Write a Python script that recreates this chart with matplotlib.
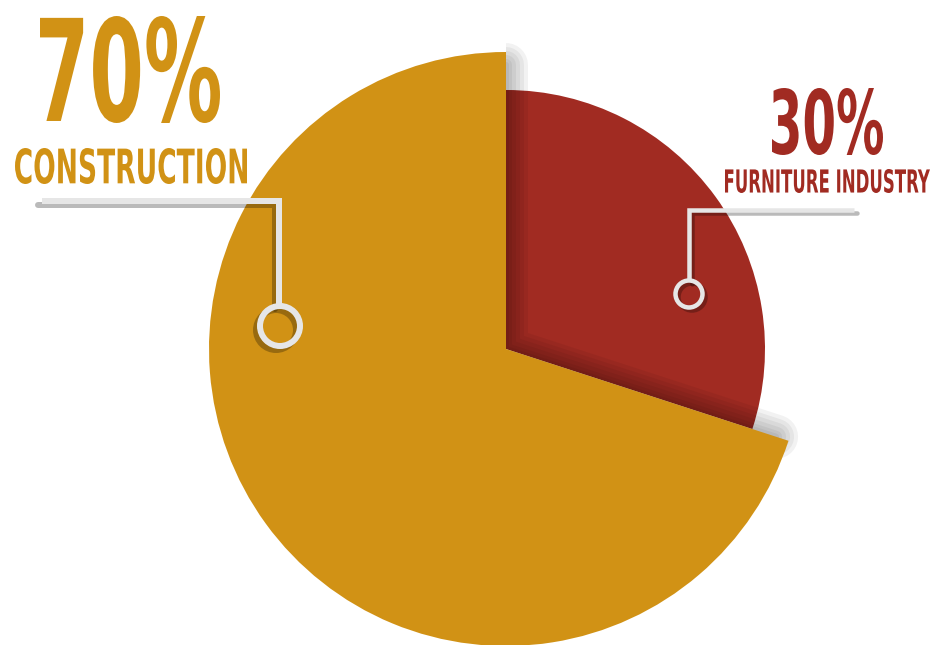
import numpy as np
import matplotlib
matplotlib.use('Agg')
import matplotlib.pyplot as plt
from matplotlib.textpath import TextPath
from matplotlib.patches import PathPatch, Circle, Wedge
from matplotlib.font_manager import FontProperties
from matplotlib.transforms import Affine2D

# data
labels = ['FURNITURE INDUSTRY', 'CONSTRUCTION']
shares = [30, 70]
pct_labels = ['30%', '70%']
colors = ['#A12B22', '#D19215']

W, H = 932, 645
PX = 72 / 100  # points per pixel at dpi 100
LINE = '#E6E6E6'


def Y(y):
    # convert top-down pixel row to axes y
    return H - y


fig = plt.figure(figsize=(W / 100, H / 100), dpi=100)
ax = fig.add_axes([0, 0, 1, 1])

center = (506, Y(349))
radii = [259, 297]

wedges_all = []
for i, (r, z) in enumerate([(radii[0], 1), (radii[1], 4)]):
    wedges, _ = ax.pie(shares, colors=colors, radius=r, center=center,
                       startangle=90, counterclock=False,
                       wedgeprops=dict(linewidth=0, zorder=z))
    for j, w in enumerate(wedges):
        w.set_zorder(z)
        if j != i:
            w.set_visible(False)
    wedges_all.append(wedges[i])

# soft shadow the big slice casts onto the small one
gold = wedges_all[1]
cx, cy = center
tips = []
for t in (gold.theta1, gold.theta2):
    a = np.deg2rad(t)
    rr = gold.r - 13
    tips.append((cx + rr * np.cos(a), cy + rr * np.sin(a)))
sx = [tips[0][0], cx, tips[1][0]]
sy = [tips[0][1], cy, tips[1][1]]
clip = Wedge(center, 340, -21.5, 90, transform=ax.transData)
for d in [22, 18, 14, 10, 6, 3]:
    ln, = ax.plot(sx, sy, color='black', alpha=0.05, lw=2 * d * PX,
                  solid_capstyle='round', solid_joinstyle='round', zorder=2)
    ln.set_clip_path(clip)


def callout(pts, circ, rad, lw, off, z=6):
    xs = [p[0] for p in pts]
    ys = [Y(p[1]) for p in pts]
    ox, oy = off
    ax.plot([x + ox for x in xs], [y - oy for y in ys], color='black', alpha=0.27,
            lw=lw * PX, solid_capstyle='round', solid_joinstyle='miter', zorder=z)
    ax.add_patch(Circle((circ[0] + ox, Y(circ[1]) - oy), rad, fill=False,
                        ec='black', alpha=0.27, lw=lw * PX, zorder=z))
    ax.plot(xs, ys, color=LINE, lw=lw * PX, solid_capstyle='butt',
            solid_joinstyle='miter', zorder=z + 1)
    ax.add_patch(Circle((circ[0], Y(circ[1])), rad, fill=False,
                        ec=LINE, lw=lw * PX, zorder=z + 1))


callout([(42, 200.5), (279, 200.5), (279, 305)], (280, 326), 20, 6, (-4, 4))
callout([(854, 209.5), (689, 209.5), (689, 281)], (689, 294), 13.5, 4.5, (3, 3))

fp = FontProperties(family='DejaVu Sans', weight='bold', stretch='condensed')


def put_text(s, box, color):
    x0, y0, x1, y1 = box
    tp = TextPath((0, 0), s, size=100, prop=fp)
    ext = tp.get_extents()
    tr = (Affine2D().translate(-ext.x0, -ext.y0)
          .scale((x1 - x0) / ext.width, (y1 - y0) / ext.height)
          .translate(x0, Y(y1)))
    ax.add_patch(PathPatch(tr.transform_path(tp), fc=color, ec='none', zorder=10))


put_text(pct_labels[1], (40, 16, 220, 123), colors[1])
put_text(labels[1], (15, 148, 247, 184), colors[1])
put_text(pct_labels[0], (772, 88, 883, 155), colors[0])
put_text(labels[0], (725, 169, 930, 193), colors[0])

ax.set_xlim(0, W)
ax.set_ylim(0, H)
ax.set_aspect('equal')
ax.axis('off')
fig.savefig('out.png', dpi=100, facecolor='white')
